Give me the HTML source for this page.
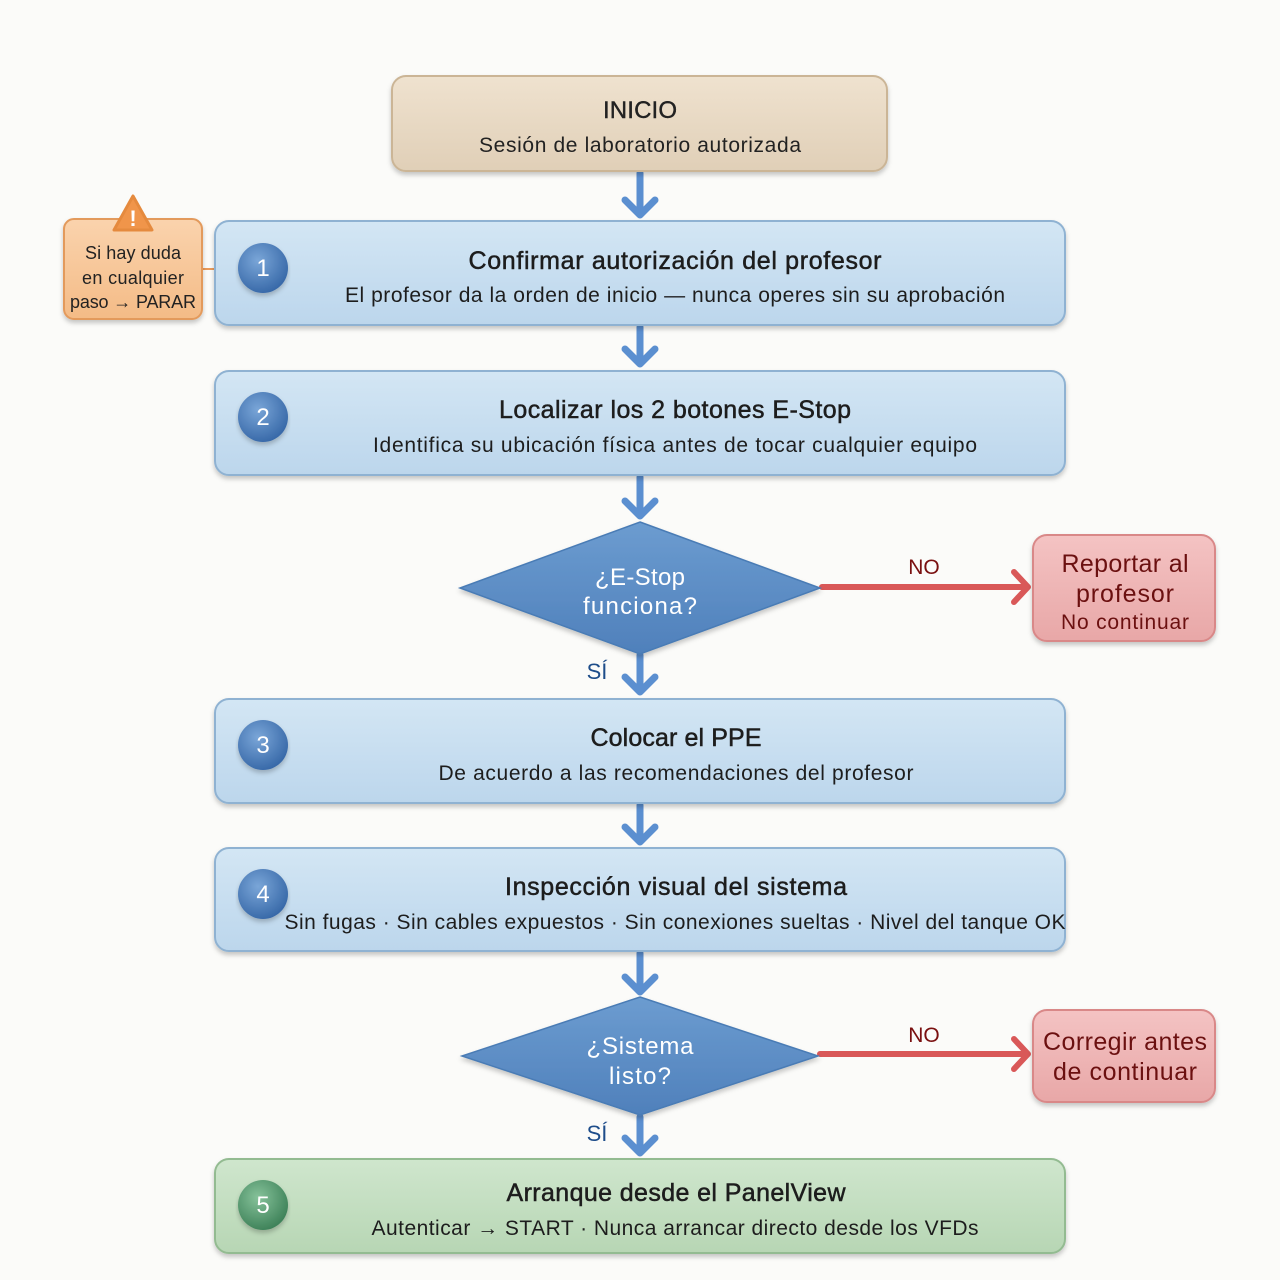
<!DOCTYPE html>
<html><head><meta charset="utf-8"><style>
html,body{margin:0;padding:0;background:#fbfbf9}
svg{display:block}
text{font-family:"Liberation Sans",sans-serif}
</style></head><body>
<svg width="1280" height="1280" viewBox="0 0 1280 1280" xmlns="http://www.w3.org/2000/svg">
<defs>
<linearGradient id="gb" x1="0" y1="0" x2="0" y2="1"><stop offset="0" stop-color="#d3e6f4"/><stop offset="1" stop-color="#bcd6ec"/></linearGradient>
<linearGradient id="gt" x1="0" y1="0" x2="0" y2="1"><stop offset="0" stop-color="#efe2cf"/><stop offset="1" stop-color="#e0cfb7"/></linearGradient>
<linearGradient id="gg" x1="0" y1="0" x2="0" y2="1"><stop offset="0" stop-color="#cfe6cd"/><stop offset="1" stop-color="#b7d6b4"/></linearGradient>
<linearGradient id="gr" x1="0" y1="0" x2="0" y2="1"><stop offset="0" stop-color="#f4c3c3"/><stop offset="1" stop-color="#e8a7a7"/></linearGradient>
<linearGradient id="go" x1="0" y1="0" x2="0" y2="1"><stop offset="0" stop-color="#fad3ad"/><stop offset="1" stop-color="#f4bb86"/></linearGradient>
<radialGradient id="cb" cx="0.4" cy="0.35" r="0.7"><stop offset="0" stop-color="#7aa6d8"/><stop offset="1" stop-color="#3566a6"/></radialGradient>
<radialGradient id="cg" cx="0.4" cy="0.35" r="0.7"><stop offset="0" stop-color="#86c29a"/><stop offset="1" stop-color="#3b7f56"/></radialGradient>
<linearGradient id="gd" x1="0" y1="0" x2="0" y2="1"><stop offset="0" stop-color="#6c9cd0"/><stop offset="1" stop-color="#4f80bb"/></linearGradient>
<filter id="sh" x="-5%" y="-10%" width="110%" height="130%"><feDropShadow dx="0" dy="3" stdDeviation="2.5" flood-color="#000" flood-opacity="0.22"/></filter>
</defs>

<!-- blue arrows -->
<g stroke="#5b8fd0" stroke-width="7" fill="none" stroke-linecap="round" stroke-linejoin="round">
<path d="M640 173V213M625 200L640 215L655 200"/>
<path d="M640 327V362M625 349L640 364L655 349"/>
<path d="M640 477V514M625 501L640 516L655 501"/>
<path d="M640 655V690M625 677L640 692L655 677"/>
<path d="M640 805V840M625 827L640 842L655 827"/>
<path d="M640 953V990M625 977L640 992L655 977"/>
<path d="M640 1117V1151M625 1138L640 1153L655 1138"/>
</g>
<!-- red arrows -->
<g stroke="#d95858" stroke-width="6" fill="none" stroke-linecap="round" stroke-linejoin="round">
<path d="M822 587H1024M1014 572L1028 587L1014 602"/>
<path d="M820 1054H1024M1014 1039L1028 1054L1014 1069"/>
</g>
<line x1="202" y1="269" x2="215" y2="269" stroke="#e99a5a" stroke-width="2"/>

<g filter="url(#sh)">
<rect x="392" y="76" width="495" height="95" rx="14" fill="url(#gt)" stroke="#cbb596" stroke-width="2"/>
<g stroke="#8fb2d2" stroke-width="2">
<rect x="215" y="221" width="850" height="104" rx="14" fill="url(#gb)"/>
<rect x="215" y="371" width="850" height="104" rx="14" fill="url(#gb)"/>
<rect x="215" y="699" width="850" height="104" rx="14" fill="url(#gb)"/>
<rect x="215" y="848" width="850" height="103" rx="14" fill="url(#gb)"/>
</g>
<rect x="215" y="1159" width="850" height="94" rx="14" fill="url(#gg)" stroke="#93bb91" stroke-width="2"/>
<polygon points="640,522 820,588 640,654 460,588" fill="url(#gd)" stroke="#4a7bb5" stroke-width="1.5"/>
<polygon points="640,997 818,1056 640,1115 462,1056" fill="url(#gd)" stroke="#4a7bb5" stroke-width="1.5"/>
<rect x="1033" y="535" width="182" height="106" rx="14" fill="url(#gr)" stroke="#d98888" stroke-width="2"/>
<rect x="1033" y="1010" width="182" height="92" rx="14" fill="url(#gr)" stroke="#d98888" stroke-width="2"/>
<rect x="64" y="219" width="138" height="100" rx="10" fill="url(#go)" stroke="#e39a5c" stroke-width="2"/>
</g>

<text x="640" y="118" font-size="24" text-anchor="middle" fill="#222" stroke="#222" stroke-width="0.4" textLength="74">INICIO</text>
<text x="640" y="152" font-size="21" text-anchor="middle" fill="#222" textLength="322">Sesión de laboratorio autorizada</text>

<g font-size="20" fill="#fff" text-anchor="middle" filter="url(#sh)">
<circle cx="263" cy="268" r="25" fill="url(#cb)"/>
<circle cx="263" cy="417" r="25" fill="url(#cb)"/>
<circle cx="263" cy="745" r="25" fill="url(#cb)"/>
<circle cx="263" cy="894" r="25" fill="url(#cb)"/>
<circle cx="263" cy="1205" r="25" fill="url(#cg)"/>
</g>
<g fill="#fff" text-anchor="middle" font-size="24">
<text x="263" y="276">1</text><text x="263" y="425">2</text><text x="263" y="753">3</text><text x="263" y="902">4</text><text x="263" y="1213">5</text>
</g>

<g fill="#1d1d1d" text-anchor="middle">
<g stroke="#1d1d1d" stroke-width="0.5">
<text x="675" y="269" font-size="25" textLength="413">Confirmar autorización del profesor</text>
<text x="675" y="418" font-size="25" textLength="352">Localizar los 2 botones E-Stop</text>
<text x="676" y="746" font-size="25" textLength="171">Colocar el PPE</text>
<text x="676" y="895" font-size="25" textLength="342">Inspección visual del sistema</text>
<text x="676" y="1201" font-size="25" textLength="339">Arranque desde el PanelView</text>
</g>
<text x="675" y="302" font-size="21" textLength="660">El profesor da la orden de inicio — nunca operes sin su aprobación</text>
<text x="675" y="452" font-size="21" textLength="604">Identifica su ubicación física antes de tocar cualquier equipo</text>
<text x="676" y="780" font-size="21" textLength="475">De acuerdo a las recomendaciones del profesor</text>
<text x="675" y="929" font-size="21" textLength="781">Sin fugas · Sin cables expuestos · Sin conexiones sueltas · Nivel del tanque OK</text>
<text x="675" y="1235" font-size="21" textLength="607">Autenticar → START · Nunca arrancar directo desde los VFDs</text>
</g>

<g fill="#fff" text-anchor="middle" font-size="24">
<text x="640" y="585" textLength="90">¿E-Stop</text>
<text x="640" y="614" textLength="114">funciona?</text>
<text x="640" y="1054" textLength="107">¿Sistema</text>
<text x="640" y="1084" textLength="62">listo?</text>
</g>
<g fill="#1e4d8a" font-size="22" text-anchor="middle">
<text x="597" y="679">SÍ</text>
<text x="597" y="1141">SÍ</text>
</g>
<g fill="#7a1010" font-size="21" text-anchor="middle">
<text x="924" y="574">NO</text>
<text x="924" y="1042">NO</text>
</g>

<g fill="#6b1010" text-anchor="middle">
<text x="1125" y="572" font-size="25" textLength="127">Reportar al</text>
<text x="1125" y="602" font-size="25" textLength="98">profesor</text>
<text x="1125" y="629" font-size="21" textLength="128">No continuar</text>
<text x="1125" y="1050" font-size="25" textLength="164">Corregir antes</text>
<text x="1125" y="1080" font-size="25" textLength="144">de continuar</text>
</g>

<polygon points="133,196 152,230 114,230" fill="#f0954a" stroke="#e58a3e" stroke-width="3" stroke-linejoin="round"/>
<text x="133" y="226" font-size="22" font-weight="bold" fill="#fff" text-anchor="middle">!</text>
<g fill="#222" text-anchor="middle" font-size="18">
<text x="133" y="259" textLength="96">Si hay duda</text>
<text x="133" y="284" textLength="102">en cualquier</text>
<text x="133" y="308" textLength="126">paso → PARAR</text>
</g>
</svg>
</body></html>
